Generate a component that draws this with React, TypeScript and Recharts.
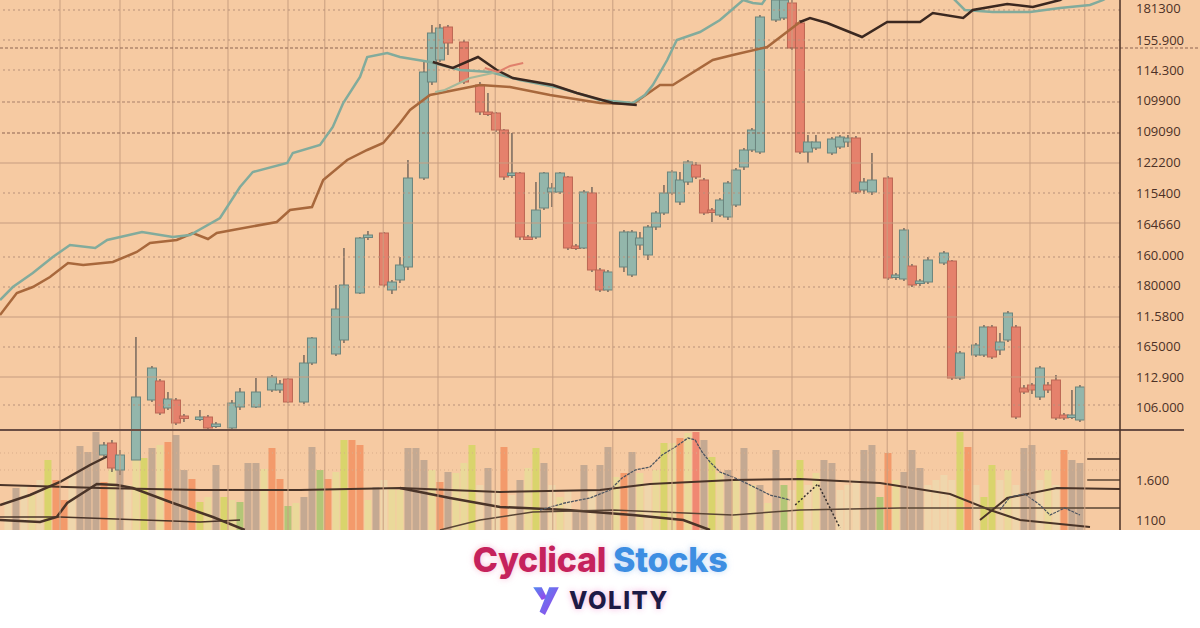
import React from "react";
import { ComposedChart, Bar, Line, XAxis, YAxis, ReferenceLine } from "recharts";

const BG = "#F6CAA2";

// ---- price candles (day index, open, high, low, close) ----
const candleDays = [13,14,15,17,19,20,21,22,23,25,26,27,29,30,32,34,35,36,38,39,42,43,45,46,48,49,50,51,53,54,55,56,58,60,61,62,63,64,65,66,67,68,69,70,71,72,73,74,75,76,78,79,80,81,82,83,84,85,86,87,88,89,90,91,92,93,94,95,97,98,99,100,101,102,104,105,106,107,108,109,111,112,113,114,115,116,118,119,120,122,123,124,125,126,127,128,129,130,131,132,133,134,135];
const candleOpen = [75,87,60,70,130,149,122,130,114,111,113,104,102,123,123,140,140,151,128,167,176,190,237,293,297,240,250,263,352,448,470,503,488,445,418,417,400,355,357,293,293,322,338,338,353,284,282,337,260,240,263,255,285,275,303,317,337,328,348,365,350,320,315,313,325,363,380,378,510,512,527,507,378,382,377,383,388,392,340,338,352,253,251,264,247,248,267,269,152,175,175,203,180,190,203,142,145,133,145,150,115,113,110];
const candleHigh = [88,90,80,193,164,151,138,132,116,120,115,108,130,142,152,155,150,152,175,193,245,282,293,299,298,250,273,370,470,505,506,505,490,448,437,418,401,397,358,295,348,358,347,358,354,286,340,343,262,260,300,300,298,305,319,345,360,358,370,368,352,322,332,349,362,382,402,515,532,532,530,510,395,395,393,395,395,394,352,377,354,257,302,266,251,273,279,270,179,187,205,205,197,219,205,145,147,164,148,155,117,140,145];
const candleLow = [72,58,55,70,128,115,120,105,108,109,101,102,100,120,122,138,137,127,126,165,174,187,236,290,243,236,247,260,350,445,468,475,446,415,414,398,350,352,290,290,291,320,323,336,280,280,281,258,238,238,258,253,280,270,300,315,335,325,345,351,315,308,313,310,323,360,378,376,508,510,480,376,367,380,375,381,383,336,336,335,250,250,249,243,244,246,265,150,150,173,173,171,175,188,111,136,136,130,137,110,110,111,108];
const candleClose = [85,62,75,133,162,117,131,107,113,113,102,106,127,138,138,153,146,128,167,192,221,245,292,295,245,248,265,352,458,497,502,487,448,418,416,400,353,357,293,292,320,357,342,357,282,282,338,260,240,258,298,298,292,303,317,337,358,350,368,353,317,318,330,347,360,380,400,513,530,530,482,378,388,388,391,393,392,338,348,350,252,255,300,245,249,270,277,152,177,185,203,173,188,217,113,138,140,162,140,112,112,115,143];

// ---- moving averages [day, value] ----
const tealMA = [[0,230],[1.6,243],[4.1,257],[6.6,273],[8.75,285],[11.9,282],[13.4,290],[17.75,298],[21.6,293],[23.75,295],[27.5,312],[30,343],[31.6,358],[35.9,367],[36.6,377],[40,385],[41.6,403],[42.9,427],[45,453],[45.9,473],[48.4,477],[50,473],[53.75,468],[57.5,460],[61.25,458],[65,450],[70,442],[75,430],[79.1,427],[80.6,435],[81.6,445],[83.4,470],[84.6,490],[87.5,498],[90,510],[92.9,530],[94.1,527],[95.25,526],[96.9,545],[106,560],[117.5,545],[120.6,520],[124.1,518],[128.75,518],[132.5,522],[136.25,525],[137.9,530],[139.4,538]];
const brownMA = [[0,215],[2.1,237],[4.1,243],[6.25,253],[8.5,267],[10.4,265],[14.1,268],[17.1,278],[18.75,287],[22.1,290],[24.1,297],[26,291],[27.1,297],[29.1,300],[34.6,308],[36.25,320],[39,323],[40.4,350],[43.4,370],[45.9,380],[47.9,387],[50,407],[51.25,420],[53.75,435],[60,445],[63.75,443],[68.75,435],[75,427],[79.1,426],[82.5,445],[84.1,445],[89.1,470],[91.6,475],[95.9,483],[100,508]];
const darkMA = [[54.1,468],[56.6,462],[59.75,473],[62.1,460],[64.1,452],[69.1,445],[72.1,437],[76.6,427],[79.6,425],[90,null],[100,508],[101.25,512],[103.4,507],[107.75,493],[110.9,508],[115,508],[116.6,517],[120.4,512],[121.6,520],[125.9,526],[129.1,523],[132.5,530],[134.4,538]];
const sageMA = [[54.4,438],[55.6,440],[58.75,452],[61.6,457],[62.5,460]];
const pinkMA = [[60.6,462],[62.25,458],[63.75,464],[65.4,467]];

// ---- axis ticks ----
const priceTickValues = [522,490,460,430,399,368,337,306,275,245,214,184,153,123,50,10];
const priceTickLabels = ["181300","155.900","114.300","109900","109090","122200","115400","164660","160.000","180000","11.5800","165000","112.900","106.000","1.600","1100"];

// ---- grid ----
const gridDays = [7.5,15,21.6,28.5,36,40.6,47.9,54.75,61.9,69.1,76.6,84,91.5,99,106.25,110.9,113.4,121.6,128.75,135.6];
const dottedLevels = [520,490,460,337,273,243,183,125];
const dashedLevels = [428];
const darkDashedLevels = [397];
const solidLevels = [367,307,213,153];

// ---- volume panel ----
const volumeValues = [30,42,45,35,50,70,50,30,55,84,78,98,48,60,60,45,70,72,82,85,88,95,60,51,28,33,65,33,30,28,67,67,61,82,51,24,27,33,83,60,51,58,90,90,85,30,43,50,43,40,82,82,70,60,48,58,57,67,85,45,62,40,83,35,50,62,82,67,45,33,40,20,65,40,65,83,53,57,78,57,45,60,87,87,92,97,98,90,73,57,60,50,82,45,45,27,80,45,40,70,45,57,70,67,40,45,50,80,85,33,77,50,58,80,62,45,50,55,50,98,83,45,33,65,50,60,45,82,85,50,60,45,80,70,67];
const volumeKinds = ("ptplpyoopt" + "ttoltplytl" + "ottoyltylg" + "ttlooglttg" + "olyooltpll" + "tttlotllyp" + "tpoptlytpl" + "pttpttlotl" + "plylolstyl" + "tltltltgpy" + "plttpppttg" + "oltttppppy" + "opyyplpttp" + "lpott").split("");
const kindColors: Record<string, string> = { p: "#EFD6AC", t: "#C4A992", o: "#F39A6B", y: "#D9D46C", l: "#EAD99A", g: "#B3C677", s: "#F08872" };

const volLine1 = [[0,25],[3.75,35],[7.5,48],[11.25,65],[13.75,75]];
const volLine2 = [[0,45],[12.5,42],[25,40],[37.5,40],[50,42],[62.5,38],[75,40],[81.25,46],[91.6,50],[100,51],[110,47],[118.75,36],[123.75,20],[127.5,10],[136.25,3]];
const volLine3 = [[0,10],[5,8],[7.1,13],[8.4,27],[12.1,46],[14.6,45],[16.6,42],[21.6,27],[26.6,13],[30.6,0]];
const volLine4 = [[0,13],[7.5,13],[25,8],[30,10]];
const volLine5 = [[50,42],[56.25,32],[62.5,23],[70.9,20],[79.1,15],[85.4,10],[88.75,0]];
const volLine6 = [[55,0],[60,10],[66.6,18],[76.6,20],[91.6,15],[100,20],[112.5,22],[125,22],[140,22]];
const volLine7 = [[122.5,10],[125.9,32],[132.1,42],[140,41]];
const volLine8 = [[135.9,71],[140,71]];
const volLine9 = [[135.9,50],[140,50]];
const volRidge = [[67.5,20],[70.6,27],[73.75,32],[76.25,40],[77.75,52],[79.4,60],[81.25,63],[82.75,75],[84.4,83],[86,92],[86.9,90],[87.75,78],[88.75,68],[90,58],[91.9,52],[93.75,45],[96.25,35],[98.75,30]];
const volRidgeRight = [[125,20],[126.25,33],[128.1,36],[130,25],[131.25,15],[133.1,22],[135,15]];
const volTriangle = [[99.4,25],[102.25,46],[105,2]];

const toPts = (arr: (number | null)[][]) => arr.map(([t, v]) => ({ t, v }));

const candles = candleDays.map((t, i) => ({ t, o: candleOpen[i], h: candleHigh[i], l: candleLow[i], c: candleClose[i] }));
const volumeData = volumeValues.map((v, i) => ({ t: i + 1, v, k: volumeKinds[i] }));

const CANDLE_W = 9;
const VOL_W = 7;

const Candle = (props: any) => {
  const { x, y, width, height } = props;
  const p = props.payload ?? props;
  const { o, c, h, l } = p;
  if (height == null || !isFinite(height)) return null;
  const ratio = height / (h - l);
  const up = c >= o;
  const top = y + (h - Math.max(o, c)) * ratio;
  const bot = y + (h - Math.min(o, c)) * ratio;
  const cx = x + width / 2;
  return (
    <g>
      <line x1={cx} x2={cx} y1={y} y2={y + height} stroke="#56504c" strokeWidth={1.2} />
      <rect x={cx - CANDLE_W / 2} y={top} width={CANDLE_W} height={Math.max(bot - top, 2.5)} fill={up ? "#93B6AB" : "#E5816C"} stroke={up ? "#6A847D" : "#BC6654"} strokeWidth={1} />
    </g>
  );
};

const VolBar = (props: any) => {
  const { x, y, width, height } = props;
  const p = props.payload ?? props;
  if (height == null || !isFinite(height)) return null;
  const cx = x + width / 2;
  return <rect x={cx - VOL_W / 2} y={y} width={VOL_W} height={height} fill={kindColors[p.k]} />;
};

const AxisTick = (props: any) => {
  const { x, y, payload } = props;
  const idx = priceTickValues.indexOf(payload.value);
  return (
    <text x={x + 8} y={y} dy={4.5} fill="#4d3126" fontSize={13} fontFamily="'Open Sans', sans-serif" textAnchor="start">
      {idx >= 0 ? priceTickLabels[idx] : ""}
    </text>
  );
};

const lineCommon = { dot: false, activeDot: false, isAnimationActive: false, type: "linear" as const, dataKey: "v" };

export default function App() {
  return (
    <div style={{ position: "absolute", left: 0, top: 0, width: 1200, height: 628, background: "#ffffff", overflow: "hidden" }}>
      <div style={{ position: "absolute", left: 0, top: 0, width: 1200, height: 530, background: BG }} />

      {/* volume panel */}
      <div style={{ position: "absolute", left: 0, top: 430 }}>
        <ComposedChart width={1120} height={100} data={volumeData} margin={{ top: 0, right: 0, bottom: 0, left: 0 }}>
          <XAxis type="number" dataKey="t" domain={[0, 140]} hide allowDataOverflow />
          <YAxis domain={[0, 100]} hide allowDataOverflow />
          <ReferenceLine y={77} stroke="#d9ad8a" strokeDasharray="1 3" />
          <ReferenceLine y={60} stroke="#d9ad8a" strokeDasharray="1 3" />
          <Bar dataKey="v" barSize={6} shape={<VolBar />} isAnimationActive={false} />
          <Line {...lineCommon} data={toPts(volLine4)} stroke="#4a3428" strokeWidth={1.5} />
          <Line {...lineCommon} data={toPts(volLine3)} stroke="#4a3428" strokeWidth={2.5} />
          <Line {...lineCommon} data={toPts(volLine1)} stroke="#4a3428" strokeWidth={2.5} />
          <Line {...lineCommon} data={toPts(volLine2)} stroke="#4a3428" strokeWidth={2} />
          <Line {...lineCommon} data={toPts(volLine5)} stroke="#4a3428" strokeWidth={2.5} />
          <Line {...lineCommon} data={toPts(volLine6)} stroke="#5a4535" strokeWidth={1.5} />
          <Line {...lineCommon} data={toPts(volLine7)} stroke="#4a3428" strokeWidth={2} />
          <Line {...lineCommon} data={toPts(volLine8)} stroke="#4a3428" strokeWidth={1.5} />
          <Line {...lineCommon} data={toPts(volLine9)} stroke="#5a4535" strokeWidth={1.5} />
          <Line {...lineCommon} data={toPts(volRidge)} stroke="#4d5560" strokeWidth={1.3} strokeDasharray="3 1" />
          <Line {...lineCommon} data={toPts(volRidgeRight)} stroke="#4d5560" strokeWidth={1.2} strokeDasharray="3 1" />
          <Line {...lineCommon} data={toPts(volTriangle)} stroke="#3a3230" strokeWidth={1.5} strokeDasharray="2 2" />
        </ComposedChart>
      </div>

      {/* price panel */}
      <div style={{ position: "absolute", left: 0, top: 0 }}>
        <ComposedChart width={1200} height={530} data={candles} margin={{ top: 0, right: 0, bottom: 0, left: 0 }}>
          <XAxis type="number" dataKey="t" domain={[0, 140]} hide allowDataOverflow />
          <YAxis
            orientation="right"
            width={80}
            domain={[0, 530]}
            allowDataOverflow
            ticks={priceTickValues}
            interval={0}
            tickLine={false}
            axisLine={{ stroke: "#4a3026", strokeWidth: 1.5 }}
            tick={<AxisTick />}
          />
          {gridDays.map((d) => (
            <ReferenceLine key={"v" + d} x={d} stroke="#c99f80" strokeWidth={1} />
          ))}
          {dottedLevels.map((v) => (
            <ReferenceLine key={"d" + v} y={v} stroke="#b8917a" strokeDasharray="2 3" />
          ))}
          {dashedLevels.map((v) => (
            <ReferenceLine key={"m" + v} y={v} stroke="#a9806a" strokeDasharray="3 2" />
          ))}
          {darkDashedLevels.map((v) => (
            <ReferenceLine key={"k" + v} y={v} stroke="#8d6552" strokeDasharray="3 2" />
          ))}
          {solidLevels.map((v) => (
            <ReferenceLine key={"s" + v} y={v} stroke="#c69c80" strokeWidth={1} />
          ))}
          <ReferenceLine segment={[{ x: 0, y: 482 }, { x: 150, y: 482 }]} stroke="#8d6552" strokeDasharray="3 2" ifOverflow="visible" />
          <ReferenceLine segment={[{ x: 0, y: 100 }, { x: 148, y: 100 }]} stroke="#6a4e44" strokeWidth={2} ifOverflow="visible" />
          <Bar dataKey={(d: any) => [d.l, d.h]} barSize={7} shape={<Candle />} isAnimationActive={false} />
          <Line {...lineCommon} data={toPts(brownMA)} stroke="#A8683C" strokeWidth={2.5} />
          <Line {...lineCommon} data={toPts(tealMA)} stroke="#82AB9C" strokeWidth={2.5} />
          <Line {...lineCommon} data={toPts(sageMA)} stroke="#A4B89A" strokeWidth={2} />
          <Line {...lineCommon} data={toPts(darkMA)} stroke="#3B2820" strokeWidth={2.5} />
          <Line {...lineCommon} data={toPts(pinkMA)} stroke="#E0806C" strokeWidth={2} />
        </ComposedChart>
      </div>

      {/* title band */}
      <div style={{ position: "absolute", left: 0, top: 539, width: 1200, textAlign: "center", fontFamily: "Inter, 'Open Sans', sans-serif", fontWeight: 800, fontSize: 34, lineHeight: "42px", letterSpacing: -0.3 }}>
        <span style={{ color: "#C5225C", textShadow: "0 0 6px rgba(240,150,190,0.6)" }}>Cyclical</span>{" "}
        <span style={{ color: "#3D8EE2", textShadow: "0 0 6px rgba(150,190,240,0.6)" }}>Stocks</span>
      </div>
      <div style={{ position: "absolute", left: 0, top: 584, width: 1200, display: "flex", justifyContent: "center", alignItems: "center", gap: 8 }}>
        <svg width={30} height={32} viewBox="0 0 28 30">
          <defs>
            <linearGradient id="lg" x1="0" y1="0" x2="1" y2="1">
              <stop offset="0" stopColor="#4F8BF0" />
              <stop offset="1" stopColor="#A43BEA" />
            </linearGradient>
          </defs>
          <polygon points="2,3 10,3 15,13 10,15" fill="url(#lg)" />
          <polygon points="17,3 26,3 13,29 8,26" fill="url(#lg)" />
        </svg>
        <span style={{ fontFamily: "Inter, 'Open Sans', sans-serif", fontWeight: 800, fontSize: 24, letterSpacing: 1.5, color: "#1D1A45", textShadow: "0 0 6px rgba(245,170,220,0.9)" }}>VOLITY</span>
      </div>
    </div>
  );
}
